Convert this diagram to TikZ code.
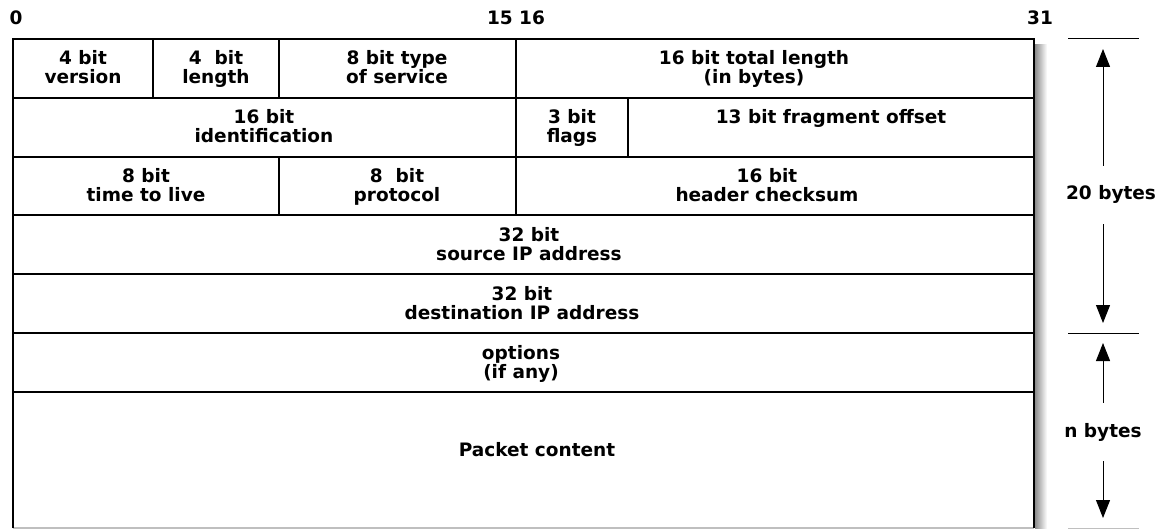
\documentclass[tikz,border=0pt]{standalone}
\usepackage{fontspec}
\setmainfont{DejaVu Sans}
\usetikzlibrary{arrows.meta}

\begin{document}
\begin{tikzpicture}[x=1pt, y=-1pt,
	lbl/.style={align=center, inner sep=0pt, anchor=base, font=\fontsize{18.5}{19}\selectfont\bfseries},
	rule/.style={line width=1.3pt},
	arr/.style={-{Triangle[width=14pt,length=18pt]}, line width=1pt, shorten <=20pt, shorten >=10pt}]
	\useasboundingbox (0,0) rectangle (1158,529);
	% shadow right of the frame
	\shade[left color=black!45, right color=white] (1035,45) rectangle (1047,529);
	% frame and rows
	\draw[gray!50, line width=1.5pt] (13,528)--(1034,528);
	\draw[line width=1.5pt] (13,528)--(13,39)--(1034,39)--(1034,528);
	\foreach \y in {98,157,215,274,333,392}
		\draw[rule] (13,\y)--(1034,\y);
	\draw[rule] (153,39)--(153,98);
	\draw[rule] (279,39)--(279,98);
	\draw[rule] (516,39)--(516,215);
	\draw[rule] (628,98)--(628,157);
	\draw[rule] (279,157)--(279,215);
	% bit numbers
	\node[lbl] (b0) at (16,25) {0};
	\node[lbl] (b1516) at (516,25) {15 16};
	\node[lbl] (b31) at (1040,25) {31};
	% fields (base = baseline of the last line)
	\node[lbl] (ver) at (83,84) {4 bit\\version};
	\node[lbl] (hlen) at (216,84) {4\ \ bit\\length};
	\node[lbl] (tos) at (397,84) {8 bit type\\of service};
	\node[lbl] (totlen) at (754,84) {16 bit total length\\(in bytes)};
	\node[lbl] (ident) at (264,143) {16 bit\\identification};
	\node[lbl] (flags) at (572,143) {3 bit\\flags};
	\node[lbl] (fragoff) at (831,124) {13 bit fragment offset};
	\node[lbl] (ttl) at (146,202) {8 bit\\time to live};
	\node[lbl] (proto) at (397,202) {8\ \ bit\\protocol};
	\node[lbl] (chksum) at (767,202) {16 bit\\header checksum};
	\node[lbl] (srcip) at (529,260) {32 bit\\source IP address};
	\node[lbl] (dstip) at (522,319) {32 bit\\destination IP address};
	\node[lbl] (opts) at (521,378) {options\\(if any)};
	\node[lbl] (payload) at (537,456) {Packet content};
	% sizes on the right
	\coordinate (hdrtop) at (1103,39);
	\coordinate (hdrbot) at (1103,333);
	\coordinate (paybot) at (1103,528);
	\draw[line width=1pt] ([xshift=-35pt]hdrtop)--([xshift=36pt]hdrtop);
	\draw[line width=1pt] ([xshift=-35pt]hdrbot)--([xshift=36pt]hdrbot);
	\draw[gray!50, line width=1pt] ([xshift=-35pt]paybot)--([xshift=36pt]paybot);
	\node[lbl] (hdrsz) at (1111,200) {20 bytes};
	\node[lbl] (optsz) at (1103,437) {n bytes};
	\draw[arr] (hdrsz.north -| hdrtop)--(hdrtop);
	\draw[arr] (hdrsz.south -| hdrbot)--(hdrbot);
	\draw[arr] (optsz.north)--(hdrbot);
	\draw[arr] (optsz.south)--(paybot);
\end{tikzpicture}
\end{document}
